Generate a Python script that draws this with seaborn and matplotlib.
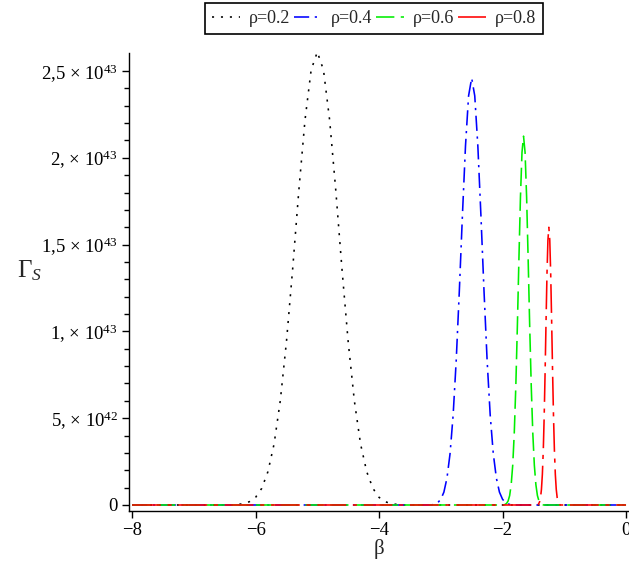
import numpy as np
import pandas as pd
import matplotlib
matplotlib.use("Agg")
import matplotlib.pyplot as plt
import seaborn as sns

# ---- data (Gamma_S in units of 10^43) ----
GAMMA_UNIT = 1e43

series_labels = ["ρ=0.2", "ρ=0.4", "ρ=0.6", "ρ=0.8"]

beta_02 = [-8.0, -6.4, -6.3, -6.2, -6.1, -6.0, -5.9, -5.8, -5.7, -5.6, -5.5, -5.4,
           -5.3, -5.2, -5.1, -5.0, -4.9, -4.8, -4.7, -4.6, -4.5, -4.4, -4.3,
           -4.2, -4.1, -4.0, -3.9, -3.8, -3.7, -3.6, 0.0]
gamma_02 = [0.0, 0.0, 0.003, 0.007, 0.019, 0.044, 0.096, 0.192, 0.352, 0.600, 0.940, 1.357,
            1.809, 2.216, 2.506, 2.610, 2.506, 2.216, 1.809, 1.357, 0.940, 0.600, 0.352,
            0.192, 0.096, 0.044, 0.019, 0.007, 0.003, 0.0, 0.0]

beta_04 = [-8.0, -3.15, -3.10, -3.05, -3.00, -2.95, -2.90, -2.85, -2.80, -2.75, -2.70,
           -2.65, -2.60, -2.55, -2.50, -2.45, -2.40, -2.35, -2.30, -2.25, -2.20,
           -2.15, -2.10, -2.05, -2.00, -1.95, -1.90, -1.85, 0.0]
gamma_04 = [0.0, 0.0, 0.005, 0.013, 0.033, 0.074, 0.155, 0.296, 0.519, 0.835, 1.232,
            1.667, 2.069, 2.357, 2.460, 2.357, 2.069, 1.667, 1.232, 0.835, 0.519,
            0.296, 0.155, 0.074, 0.033, 0.013, 0.005, 0.0, 0.0]

beta_06 = [-8.0, -1.985, -1.96, -1.935, -1.91, -1.885, -1.86, -1.835, -1.81, -1.785,
           -1.76, -1.735, -1.71, -1.685, -1.66, -1.635, -1.61, -1.585, -1.56, -1.535,
           -1.51, -1.485, -1.46, -1.435, -1.41, -1.385, -1.36, -1.335, 0.0]
gamma_06 = [0.0, 0.0, 0.003, 0.009, 0.023, 0.054, 0.117, 0.230, 0.415, 0.684,
            1.028, 1.413, 1.773, 2.031, 2.125, 2.031, 1.773, 1.413, 1.028, 0.684,
            0.415, 0.230, 0.117, 0.054, 0.023, 0.009, 0.003, 0.0, 0.0]

beta_08 = [-8.0, -1.43, -1.415, -1.40, -1.385, -1.37, -1.355, -1.34, -1.325, -1.31,
           -1.295, -1.28, -1.265, -1.25, -1.235, -1.22, -1.205, -1.19, -1.175, -1.16,
           -1.145, -1.13, -1.115, -1.10, -1.085, -1.07, 0.0]
gamma_08 = [0.0, 0.0, 0.007, 0.018, 0.042, 0.090, 0.176, 0.316, 0.518, 0.777,
            1.065, 1.333, 1.526, 1.600, 1.526, 1.333, 1.065, 0.777, 0.518, 0.316,
            0.176, 0.090, 0.042, 0.018, 0.007, 0.0, 0.0]

x_ticks = [-8, -6, -4, -2, 0]
y_ticks = [0.0, 5e42, 1e43, 1.5e43, 2e43, 2.5e43]
y_tick_labels = ["0",
                 "5, × $10^{42}$",
                 "1, × $10^{43}$",
                 "1,5 × $10^{43}$",
                 "2, × $10^{43}$",
                 "2,5 × $10^{43}$"]

# ---- styling ----
sns.set_style("ticks")
plt.rcParams["font.family"] = ["Liberation Serif", "DejaVu Serif"]
plt.rcParams["mathtext.fontset"] = "custom"
plt.rcParams["mathtext.rm"] = "Liberation Serif"
plt.rcParams["mathtext.it"] = "Liberation Serif:italic"
plt.rcParams["mathtext.bf"] = "Liberation Serif:bold"

colors = {"ρ=0.2": "#000000", "ρ=0.4": "#0000ff", "ρ=0.6": "#00ee00", "ρ=0.8": "#ff0000"}
dash_codes = {"ρ=0.2": (1.3, 4.3),
              "ρ=0.4": (9.5, 3.5, 1.4, 3.5),
              "ρ=0.6": (11.5, 4.0),
              "ρ=0.8": (18.0, 4.2, 2.6, 4.2)}

frames = []
for lab, b, g in zip(series_labels, [beta_02, beta_04, beta_06, beta_08],
                     [gamma_02, gamma_04, gamma_06, gamma_08]):
    frames.append(pd.DataFrame({"beta": b,
                                "gamma": np.asarray(g) * GAMMA_UNIT,
                                "series": lab}))
df = pd.concat(frames, ignore_index=True)

fig = plt.figure(figsize=(6.29, 5.67), dpi=100)
ax = fig.add_axes([129 / 629, 56 / 567, 499 / 629, 458 / 567])

sns.lineplot(data=df, x="beta", y="gamma", hue="series", style="series",
             hue_order=series_labels, style_order=series_labels,
             palette=colors, dashes=dash_codes, estimator=None, sort=False,
             legend=False, linewidth=1.15, clip_on=False, ax=ax)

ax.set_xlim(-8.05, 0.032)
ax.set_ylim(-3.46e41, 2.604e43)

ax.set_xticks(x_ticks)
ax.set_yticks(y_ticks)
ax.set_yticklabels(y_tick_labels)
ax.set_yticks(np.arange(0, 2.6e43, 1e42), minor=True)

for side in ("top", "right"):
    ax.spines[side].set_visible(False)
for side in ("left", "bottom"):
    ax.spines[side].set_linewidth(1.0)
    ax.spines[side].set_color("black")

ax.tick_params(axis="both", which="major", direction="out", length=5, width=1.0,
               colors="black", labelsize=13.5, pad=3)
ax.tick_params(axis="y", which="minor", direction="out", length=3.5, width=1.0,
               colors="black")

ax.set_xlabel("β", fontsize=15, labelpad=0)
ax.set_ylabel(r"$\Gamma_{S}$", fontsize=18, rotation=0, ha="center", va="center")
ax.yaxis.set_label_coords(-0.2, 0.525)

fig.legend(handles=ax.lines[:4], labels=series_labels, ncol=4,
           loc="upper center", bbox_to_anchor=(374 / 629, 1 - 3 / 567),
           frameon=True, fancybox=False, edgecolor="black", framealpha=1,
           fontsize=13, handlelength=1.55, handletextpad=0.45,
           columnspacing=0.25, borderpad=0.38, borderaxespad=0)
fig.legends[0].get_frame().set_linewidth(1.2)

fig.savefig("out.png", dpi=100)
